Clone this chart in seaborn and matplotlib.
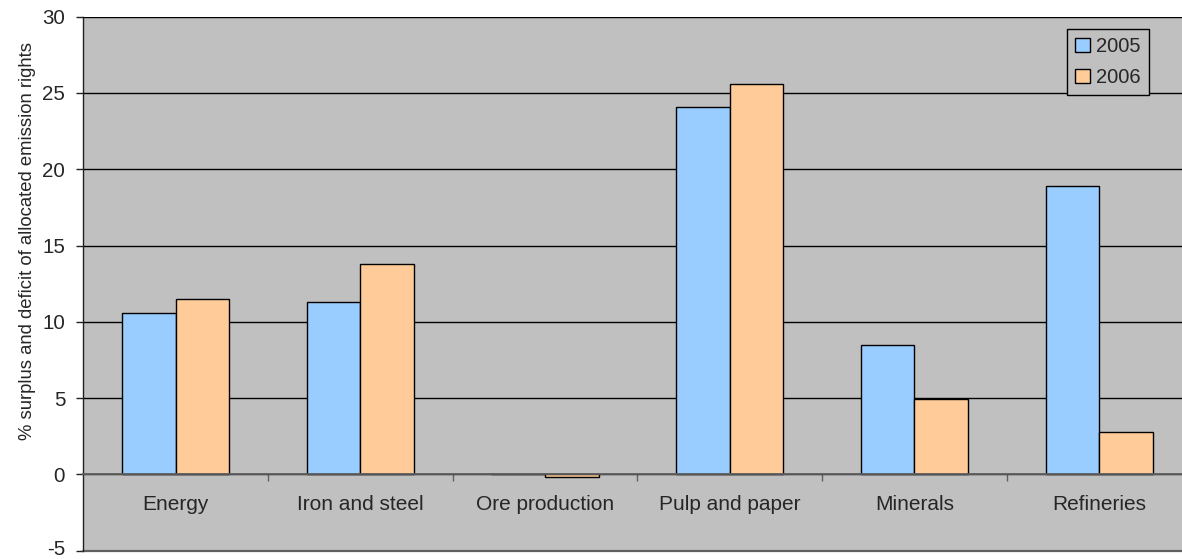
import matplotlib
matplotlib.use("Agg")
import matplotlib.pyplot as plt
import matplotlib.transforms as mtransforms
import seaborn as sns
import pandas as pd
from matplotlib.patches import Patch

# Sector results: % surplus (+) / deficit (-) of allocated emission rights
sectors = ["Energy", "Iron and steel", "Ore production", "Pulp and paper", "Minerals", "Refineries"]
values_2005 = [10.6, 11.3, 0.0, 24.1, 8.5, 18.9]
values_2006 = [11.5, 13.8, -0.15, 25.6, 4.95, 2.8]
years = ["2005", "2006"]
y_ticks = [-5, 0, 5, 10, 15, 20, 25, 30]
y_label = "% surplus and deficit of allocated emission rights"

colors = {"2005": "#99CCFF", "2006": "#FFCC99"}

df = pd.DataFrame({
    "sector": sectors * 2,
    "value": values_2005 + values_2006,
    "year": [years[0]] * len(sectors) + [years[1]] * len(sectors),
})

sns.set_theme(style="white")
plt.rcParams["font.family"] = ["Liberation Sans", "DejaVu Sans"]

W, H = 1182, 559
fig = plt.figure(figsize=(W / 100, H / 100), dpi=100)
ax = fig.add_axes([83.3 / W, 8.3 / H, 1108.2 / W, 534.0 / H])
ax.set_facecolor("#C0C0C0")

sns.barplot(data=df, x="sector", y="value", hue="year", order=sectors,
            hue_order=years, palette=colors, saturation=1, width=0.58,
            gap=0, edgecolor="black", linewidth=1.0, ax=ax, legend=False,
            errorbar=None)

ax.set_ylim(y_ticks[0], y_ticks[-1])
ax.set_xlim(-0.5, len(sectors) - 0.5)
ax.set_yticks(y_ticks)
ax.set_yticklabels([str(t) for t in y_ticks], fontsize=14.8)
ax.tick_params(axis="y", direction="out", length=5, width=1, color="#202020",
               pad=8, left=True)

# Nudge the lowest value label up so it stays inside the canvas
lowest = ax.get_yticklabels()[0]
lowest.set_transform(lowest.get_transform() +
                     mtransforms.ScaledTranslation(0, 2.5 / 72, fig.dpi_scale_trans))

# Horizontal gridlines behind the bars
ax.set_axisbelow(True)
ax.yaxis.grid(True, color="black", linewidth=1.0)

# Category axis sits on the zero line, tick marks between categories
ax.spines["bottom"].set_position(("data", 0))
ax.spines["bottom"].set_color("#606060")
ax.spines["bottom"].set_linewidth(1.3)
ax.spines["left"].set_color("#202020")
ax.spines["left"].set_linewidth(1.0)
ax.spines["top"].set_visible(False)
ax.spines["right"].set_visible(False)
ax.axhline(y_ticks[0], color="#606060", linewidth=1.6, clip_on=False)

ax.set_xticks(range(len(sectors)))
ax.set_xticklabels(sectors, fontsize=15)
ax.set_xticks([i + 0.5 for i in range(len(sectors) - 1)], minor=True)
ax.tick_params(axis="x", which="major", length=0, pad=15, bottom=True)
ax.tick_params(axis="x", which="minor", direction="out", length=5, width=1,
               color="#606060", bottom=True)
ax.set_xlabel("")

ax.set_ylabel(y_label, fontsize=13.3)
ax.yaxis.set_label_coords(36 / W, 1 - 241 / H, transform=fig.transFigure)

handles = [Patch(facecolor=colors[y], edgecolor="black", linewidth=1.0, label=y)
           for y in years]
leg = fig.legend(handles=handles, loc="upper left",
                 bbox_to_anchor=(1067 / W, 1 - 29 / H), fontsize=14.5,
                 frameon=True, fancybox=False, framealpha=1,
                 handlelength=0.75, handleheight=0.75, handletextpad=0.3,
                 labelspacing=0.6, borderpad=0.4, borderaxespad=0)
leg.get_frame().set_facecolor("#C0C0C0")
leg.get_frame().set_edgecolor("black")
leg.get_frame().set_linewidth(1.0)

fig.savefig("out.png", dpi=100)
